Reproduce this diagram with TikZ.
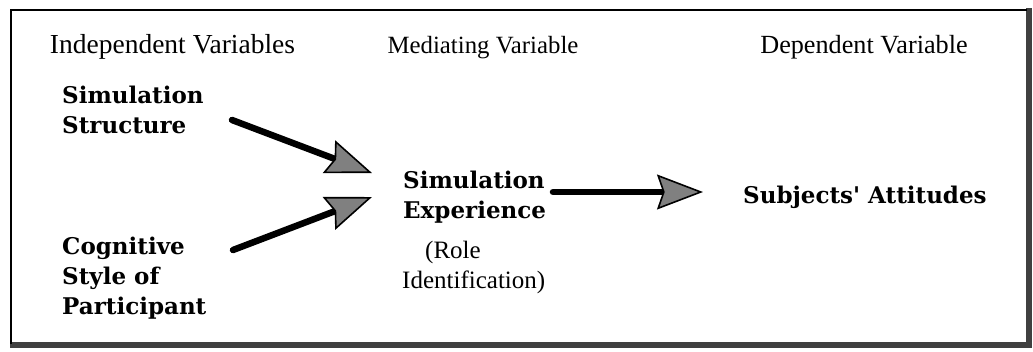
\documentclass[tikz,border=0pt]{standalone}
\usepackage{fontspec}
\setmainfont{Liberation Serif}
\newfontfamily\boldface{DejaVu Serif}
\usetikzlibrary{arrows.meta}
\tikzset{
  heading/.style={inner sep=0pt, anchor=base},
  plain/.style={font=\fontsize{25}{30}\selectfont, inner sep=0pt, anchor=base west},
  concept/.style={font=\boldface\bfseries\fontsize{23}{30}\selectfont, inner sep=0pt, anchor=base west, align=left},
  flow/.style={line width=6.5pt, line cap=round,
    -{Stealth[length=46pt, width=35pt, inset=6pt, fill=black!50, line width=1.6pt 0]}},
  frameline/.style={line width=2pt},
  shadowline/.style={line width=6pt, black!75}
}
\begin{document}
\begin{tikzpicture}[x=1pt, y=-1pt]
  \useasboundingbox (0,0) rectangle (1033,351);
  % outer frame: thin top/left, heavy right/bottom
  \draw[shadowline] (1029,8) -- (1029,345) -- (10,345);
  \draw[frameline] (11,344) -- (11,10) -- (1027,10);

  % column headings
  \node[heading, font=\fontsize{27.5}{30}\selectfont] (hind) at (172.5,53) {Independent Variables};
  \node[heading, font=\fontsize{24.8}{30}\selectfont] (hmed) at (483,53) {Mediating Variable};
  \node[heading, font=\fontsize{26.2}{30}\selectfont] (hdep) at (864,53) {Dependent Variable};

  % variables (node base = baseline of the last line)
  \node[concept] (struct) at (62,133) {Simulation\\Structure};
  \node[concept] (cogn) at (62,314) {Cognitive\\Style of\\Participant};
  \node[concept] (exper) at (403,218) {Simulation\\Experience};
  \node[concept] (attit) at (743,203) {Subjects' Attitudes};
  \node[plain] (role) at (425,258) {(Role};
  \node[plain] (ident) at (402,288) {Identification)};

  % arrow end points
  \coordinate (t1) at (232,120);
  \coordinate (h1) at (372,173);
  \coordinate (t2) at (233,250);
  \coordinate (h2) at (372,197);
  \coordinate (t3) at (553,192);
  \coordinate (h3) at (703,192);

  \draw[flow] (t1) -- (h1);
  \draw[flow] (t2) -- (h2);
  \draw[flow] (t3) -- (h3);
\end{tikzpicture}
\end{document}
